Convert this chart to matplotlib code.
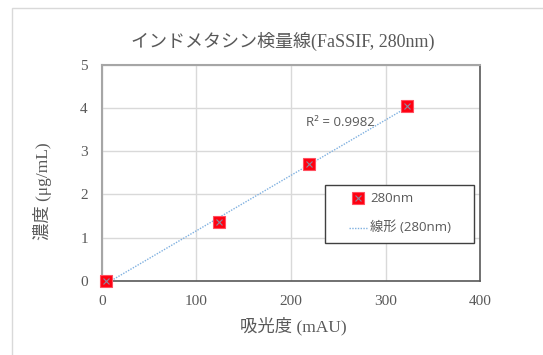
import numpy as np
import matplotlib
matplotlib.use("Agg")
import matplotlib.pyplot as plt
from matplotlib.lines import Line2D
from matplotlib.patches import Rectangle

# Calibration data: absorbance (mAU) vs concentration (µg/mL)
absorbance = [5, 124, 219, 323]
concentration = [0.0, 1.35, 2.71, 4.05]
r_squared_text = "R² = 0.9982"
series_name = "280nm"
trend_name = "線形 (280nm)"
title = "インドメタシン検量線(FaSSIF, 280nm)"
x_label = "吸光度 (mAU)"
y_label = "濃度 (μg/mL)"
x_ticks = [0, 100, 200, 300, 400]
y_ticks = [0, 1, 2, 3, 4, 5]

SERIF = ["Liberation Serif", "Noto Sans CJK JP"]
SANS = ["Open Sans", "Noto Sans CJK JP"]
TXT = "#595959"

W, H = 543, 355
fig = plt.figure(figsize=(W / 100, H / 100), dpi=100)
fig.patch.set_facecolor("white")

# chart-area frame
fig.add_artist(Rectangle((12 / W, -0.1), 1.2, (H - 8) / H + 0.1,
                         transform=fig.transFigure, fill=False,
                         edgecolor="#d9d9d9", linewidth=1.0))

left, right = 101.7 / W, 480.3 / W
bottom, top = 1 - 280.7 / H, 1 - 65 / H
ax = fig.add_axes([left, bottom, right - left, top - bottom])

ax.set_xlim(0, 400)
ax.set_ylim(0, 5)
ax.set_xticks(x_ticks)
ax.set_yticks(y_ticks)
ax.grid(True, color="#d9d9d9", linewidth=1.0)
ax.set_axisbelow(True)
ax.tick_params(length=0, labelsize=11, labelcolor=TXT, pad=10)
for lab in ax.get_xticklabels() + ax.get_yticklabels():
    lab.set_family(SERIF)

for side in ["left", "top"]:
    ax.spines[side].set_color("#a6a6a6")
    ax.spines[side].set_linewidth(1.5)
for side in ["bottom", "right"]:
    ax.spines[side].set_color("#595959")
    ax.spines[side].set_linewidth(1.2)

# linear trend line over the measured range
coef = np.polyfit(absorbance, concentration, 1)
xs = np.array([min(absorbance), max(absorbance)])
ax.plot(xs, np.polyval(coef, xs), linestyle=(0, (1, 1)), color="#7fb0e0",
        linewidth=1.0, zorder=3)

# data points: red squares with an x glyph
ax.plot(absorbance, concentration, linestyle="none", marker="s",
        markersize=9, markerfacecolor="#ff0010", markeredgecolor="#ff5060",
        markeredgewidth=0.8, zorder=4, clip_on=False)
ax.plot(absorbance, concentration, linestyle="none", marker="x",
        markersize=5, markeredgecolor="#8a8aa0", markeredgewidth=0.8,
        zorder=5, clip_on=False)

ax.text(216, 3.66, r_squared_text, fontsize=9.5, color=TXT,
        family=SANS, ha="left", va="center")

# legend box
lx0, ly0, lx1, ly1 = 325, 185, 474.3, 243.3
fig.add_artist(Rectangle((lx0 / W, 1 - ly1 / H), (lx1 - lx0) / W,
                         (ly1 - ly0) / H, transform=fig.transFigure,
                         facecolor="white", edgecolor="#404040",
                         linewidth=1.0, zorder=10))
fig.add_artist(Line2D([357.7 / W], [1 - 198.3 / H], marker="s",
                      markersize=8, markerfacecolor="#ff0010",
                      markeredgecolor="#ff5060", markeredgewidth=0.8,
                      linestyle="none", transform=fig.transFigure, zorder=11))
fig.add_artist(Line2D([357.7 / W], [1 - 198.3 / H], marker="x",
                      markersize=4.5, markeredgecolor="#8a8aa0",
                      markeredgewidth=0.8, linestyle="none",
                      transform=fig.transFigure, zorder=12))
fig.add_artist(Line2D([349 / W, 367 / W], [1 - 227.7 / H] * 2,
                      linestyle=(0, (1, 1)), color="#7fb0e0", linewidth=1.0,
                      transform=fig.transFigure, zorder=11))
fig.text(370 / W, 1 - 198.3 / H, series_name, fontsize=9.5, color=TXT,
         family=SANS, ha="left", va="center", zorder=12)
fig.text(370 / W, 1 - 227.7 / H, trend_name, fontsize=9.5, color=TXT,
         family=SANS, ha="left", va="center", zorder=12)

# titles
fig.text(283 / W, 1 - 41 / H, title, fontsize=13, color=TXT,
         family=SERIF, ha="center", va="center")
fig.text(293 / W, 1 - 326 / H, x_label, fontsize=12.5, color=TXT,
         family=SERIF, ha="center", va="center")
fig.text(42 / W, 1 - 191 / H, y_label, fontsize=12.5, color=TXT,
         family=SERIF, ha="center", va="center", rotation=90)

fig.savefig("out.png", dpi=100, facecolor="white")
